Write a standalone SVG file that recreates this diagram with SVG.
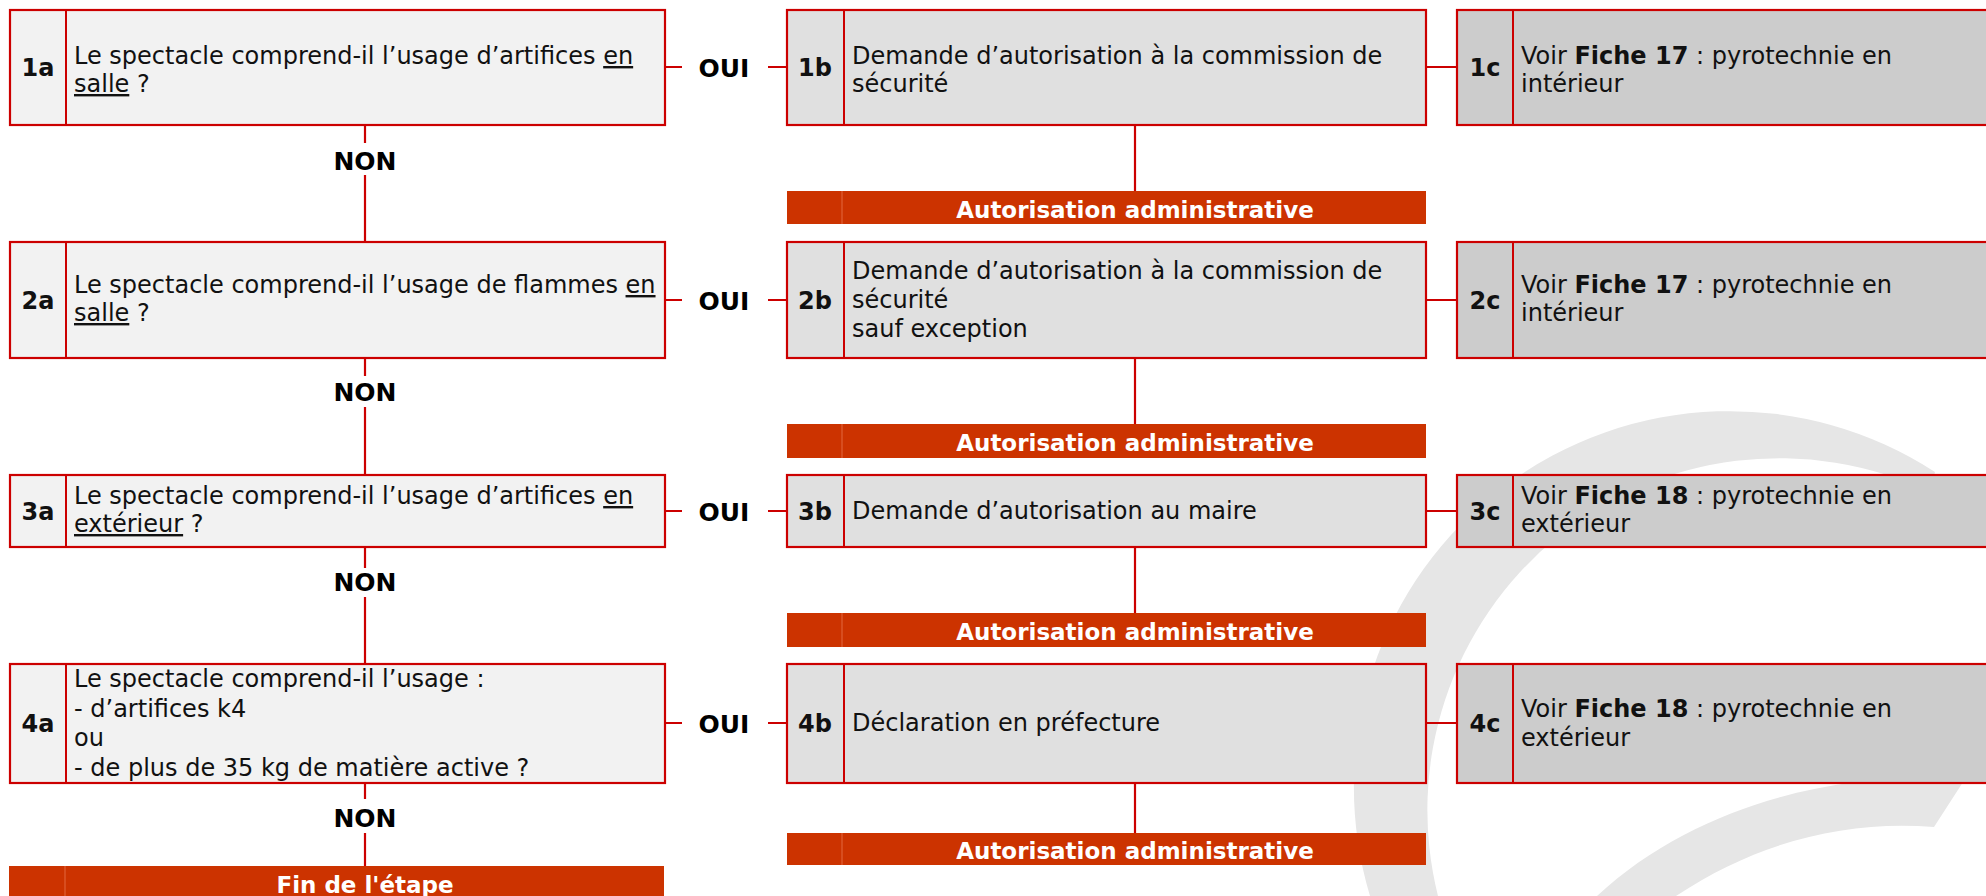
<svg xmlns="http://www.w3.org/2000/svg" width="1986" height="896" viewBox="0 0 1986 896">
<style>
.bx{stroke:#CC0000;stroke-width:2.2}
.fa{fill:#F2F2F2}.fb{fill:#E0E0E0}.fc{fill:#CCCCCC}
.dv{stroke:#CC0000;stroke-width:2}
.cn{stroke:#CC0000;stroke-width:2.2;fill:none}
.t{font-family:"DejaVu Sans",Verdana,sans-serif;font-size:24px;fill:#111}
.lb{font-family:"DejaVu Sans",Verdana,sans-serif;font-size:24px;font-weight:bold;fill:#111;text-anchor:middle}
.yn{font-family:"DejaVu Sans",Verdana,sans-serif;font-size:25px;font-weight:bold;fill:#000;text-anchor:middle}
.bar{fill:#CC3300}
.bd{stroke:#E2683E;stroke-width:1}
.bt{font-family:"DejaVu Sans",Verdana,sans-serif;font-size:23px;font-weight:bold;fill:#FFFFFF;text-anchor:middle}
.u{text-decoration:underline}
.b{font-weight:bold}
</style>
<rect width="1986" height="896" fill="#FFFFFF"/>
<g id="watermark" fill="#E6E6E6">
<path d="M1935,472 A376,376 0 0 0 1370,896 L1438,896 A352,352 0 0 1 1930,492 Z"/>
<path d="M1965,779 C1850,770 1700,800 1597,896 L1676,896 C1760,840 1850,820 1934,827 Z"/>
</g>
<g id="connectors">
<path class="cn" d="M665,67H682M768,67H787M1426,67H1457"/>
<path class="cn" d="M665,300H682M768,300H787M1426,300H1457"/>
<path class="cn" d="M665,511H682M768,511H787M1426,511H1457"/>
<path class="cn" d="M665,723H682M768,723H787M1426,723H1457"/>
<path class="cn" d="M365,125V143M365,175V242M365,358V376M365,407V475M365,547V568M365,597V664M365,783V799M365,833V866"/>
<path class="cn" d="M1135,125V191M1135,358V424M1135,547V613M1135,783V833"/>
</g>
<g id="labels-yn">
<text class="yn" x="724" y="77">OUI</text>
<text class="yn" x="724" y="310">OUI</text>
<text class="yn" x="724" y="521">OUI</text>
<text class="yn" x="724" y="733">OUI</text>
<text class="yn" x="365" y="170">NON</text>
<text class="yn" x="365" y="401">NON</text>
<text class="yn" x="365" y="591">NON</text>
<text class="yn" x="365" y="827">NON</text>
</g>
<g id="n1a">
<rect class="bx fa" x="10" y="10" width="655" height="115"/>
<line class="dv" x1="66" y1="10" x2="66" y2="125"/>
<text class="lb" x="38" y="76">1a</text>
<text class="t" x="74" y="64">Le spectacle comprend-il l’usage d’artifices <tspan class="u">en</tspan></text>
<text class="t" x="74" y="92"><tspan class="u">salle</tspan> ?</text>
</g>
<g id="n1b">
<rect class="bx fb" x="787" y="10" width="639" height="115"/>
<line class="dv" x1="844" y1="10" x2="844" y2="125"/>
<text class="lb" x="815" y="76">1b</text>
<text class="t" x="852" y="64">Demande d’autorisation à la commission de</text>
<text class="t" x="852" y="92">sécurité</text>
</g>
<g id="n1c">
<rect class="bx fc" x="1457" y="10" width="540" height="115"/>
<line class="dv" x1="1513" y1="10" x2="1513" y2="125"/>
<text class="lb" x="1485" y="76">1c</text>
<text class="t" x="1521" y="64">Voir <tspan class="b">Fiche 17</tspan> : pyrotechnie en</text>
<text class="t" x="1521" y="92">intérieur</text>
</g>
<g id="bar1">
<rect class="bar" x="787" y="191" width="639" height="33"/>
<line class="bd" x1="842" y1="191" x2="842" y2="224"/>
<text class="bt" x="1135" y="218">Autorisation administrative</text>
</g>
<g id="n2a">
<rect class="bx fa" x="10" y="242" width="655" height="116"/>
<line class="dv" x1="66" y1="242" x2="66" y2="358"/>
<text class="lb" x="38" y="309">2a</text>
<text class="t" x="74" y="293">Le spectacle comprend-il l’usage de flammes <tspan class="u">en</tspan></text>
<text class="t" x="74" y="321"><tspan class="u">salle</tspan> ?</text>
</g>
<g id="n2b">
<rect class="bx fb" x="787" y="242" width="639" height="116"/>
<line class="dv" x1="844" y1="242" x2="844" y2="358"/>
<text class="lb" x="815" y="309">2b</text>
<text class="t" x="852" y="279">Demande d’autorisation à la commission de</text>
<text class="t" x="852" y="308">sécurité</text>
<text class="t" x="852" y="337">sauf exception</text>
</g>
<g id="n2c">
<rect class="bx fc" x="1457" y="242" width="540" height="116"/>
<line class="dv" x1="1513" y1="242" x2="1513" y2="358"/>
<text class="lb" x="1485" y="309">2c</text>
<text class="t" x="1521" y="293">Voir <tspan class="b">Fiche 17</tspan> : pyrotechnie en</text>
<text class="t" x="1521" y="321">intérieur</text>
</g>
<g id="bar2">
<rect class="bar" x="787" y="424" width="639" height="34"/>
<line class="bd" x1="842" y1="424" x2="842" y2="458"/>
<text class="bt" x="1135" y="451">Autorisation administrative</text>
</g>
<g id="n3a">
<rect class="bx fa" x="10" y="475" width="655" height="72"/>
<line class="dv" x1="66" y1="475" x2="66" y2="547"/>
<text class="lb" x="38" y="520">3a</text>
<text class="t" x="74" y="504">Le spectacle comprend-il l’usage d’artifices <tspan class="u">en</tspan></text>
<text class="t" x="74" y="532"><tspan class="u">extérieur</tspan> ?</text>
</g>
<g id="n3b">
<rect class="bx fb" x="787" y="475" width="639" height="72"/>
<line class="dv" x1="844" y1="475" x2="844" y2="547"/>
<text class="lb" x="815" y="520">3b</text>
<text class="t" x="852" y="519">Demande d’autorisation au maire</text>
</g>
<g id="n3c">
<rect class="bx fc" x="1457" y="475" width="540" height="72"/>
<line class="dv" x1="1513" y1="475" x2="1513" y2="547"/>
<text class="lb" x="1485" y="520">3c</text>
<text class="t" x="1521" y="504">Voir <tspan class="b">Fiche 18</tspan> : pyrotechnie en</text>
<text class="t" x="1521" y="532">extérieur</text>
</g>
<g id="bar3">
<rect class="bar" x="787" y="613" width="639" height="34"/>
<line class="bd" x1="842" y1="613" x2="842" y2="647"/>
<text class="bt" x="1135" y="640">Autorisation administrative</text>
</g>
<g id="n4a">
<rect class="bx fa" x="10" y="664" width="655" height="119"/>
<line class="dv" x1="66" y1="664" x2="66" y2="783"/>
<text class="lb" x="38" y="732">4a</text>
<text class="t" x="74" y="687">Le spectacle comprend-il l’usage :</text>
<text class="t" x="74" y="717">- d’artifices k4</text>
<text class="t" x="74" y="746">ou</text>
<text class="t" x="74" y="776">- de plus de 35 kg de matière active ?</text>
</g>
<g id="n4b">
<rect class="bx fb" x="787" y="664" width="639" height="119"/>
<line class="dv" x1="844" y1="664" x2="844" y2="783"/>
<text class="lb" x="815" y="732">4b</text>
<text class="t" x="852" y="731">Déclaration en préfecture</text>
</g>
<g id="n4c">
<rect class="bx fc" x="1457" y="664" width="540" height="119"/>
<line class="dv" x1="1513" y1="664" x2="1513" y2="783"/>
<text class="lb" x="1485" y="732">4c</text>
<text class="t" x="1521" y="717">Voir <tspan class="b">Fiche 18</tspan> : pyrotechnie en</text>
<text class="t" x="1521" y="746">extérieur</text>
</g>
<g id="bar4">
<rect class="bar" x="787" y="833" width="639" height="32"/>
<line class="bd" x1="842" y1="833" x2="842" y2="865"/>
<text class="bt" x="1135" y="859">Autorisation administrative</text>
</g>
<g id="fin">
<rect class="bar" x="9" y="866" width="655" height="34"/>
<line class="bd" x1="65" y1="866" x2="65" y2="896"/>
<text class="bt" x="365" y="893">Fin de l'étape</text>
</g>
</svg>
